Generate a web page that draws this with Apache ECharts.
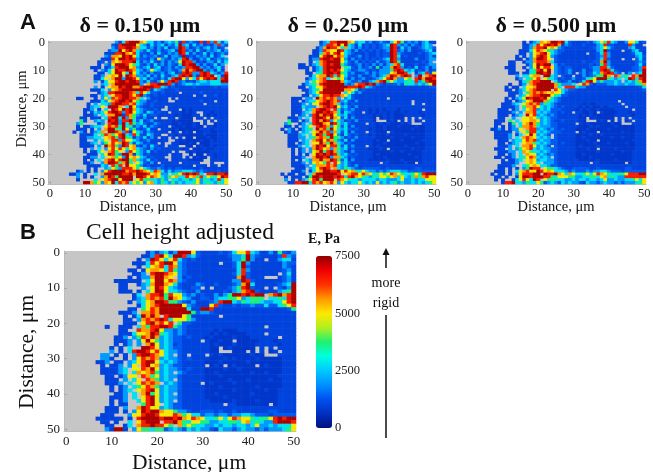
<!DOCTYPE html>
<html><head><meta charset="utf-8">
<style>html,body{margin:0;padding:0;background:#fff}#c{width:653px;height:472px}</style>
<script src="https://cdn.jsdelivr.net/npm/echarts@6/dist/echarts.min.js"></script>
</head><body><div id="c"></div>
<script>
// Distance ticks, um
const distance = Array.from({length:51},(_, i)=>String(i));
// One character per cell: '.' = no data, digits index levelValues (Pa)
const levelValues = [750,1000,1350,2000,2800,3700,4900,5600,6500,7300];
const colorbarTicks = [0,2500,5000,7500];
const panelTitles = ['δ = 0.150 μm','δ = 0.250 μm','δ = 0.500 μm','Cell height adjusted'];

const delta150 = [
".......... .........3 1489997644 2313435182 3218183842 4",
".......... ........21 8999964314 2341324934 1423121383 2",
".......... ........31 8899874423 1324123983 1231342312 .",
".......... .......233 9689743242 1312341982 3142132341 3",
".......... ......1118 8976842213 1421323984 1312413123 2",
".......... ......3277 6989641322 3124133291 2132314124 .",
".......... .....11186 9989832213 1632132489 3113241232 3",
".......... ....12.276 7888941324 2131323698 8312133142 4",
".......... ....1.3269 9986542131 4231321498 9931312413 .",
".......... ..111.1248 9996732341 3412313238 8993231342 .",
".......... ...1.32469 8898743136 4312321379 7899323141 .",
".......... ....11.469 9649642313 1231341289 8338984313 8",
".......... ...113.676 9.98733241 3142134898 9318989.41 9",
".......... ...1146.79 9399863413 2131489963 6486898948 9",
".......... ...3.14668 9989983242 1363898231 2134434449 9",
".......... .....34.79 9999993.78 8999831234 4343334443 3",
".......... ...3.1.677 9899778999 8843121111 1211111212 2",
".......... ..1114.367 8999999981 4321112111 1111111111 1",
".......... ....134889 9998748642 2121111.11 1112111111 1",
".......... ..11.34.68 8998689321 2111111111 1.11.11211 1",
"........11 ...1.36487 8998874.31 1111.1.111 1111111111 1",
".......... ..11143678 9989653311 2111..1111 1112111.11 1",
".......... .1.3.44389 9887843212 1111111111 1111.11111 1",
".......... .13446.999 7.49632112 111.111111 1111111111 1",
".......... 113.1.4.98 6989743211 21..111.01 0111111111 1",
".......... 1.14346899 8389643143 1211.11101 01..110111 1",
".......... 1113.4.779 9187532412 2111110100 011.101011 1",
".........1 1.111.4899 4937521311 .1..11.100 0.11.1.111 1",
".........5 1..343.989 3889424123 1111101000 0...1.1.11 1",
"........35 ....13.899 3948534211 3211100100 010.1..011 1",
"........1. 11344.6878 5945232413 2111.10010 0100.11011 1",
"........11 1.1.3.7995 4963521241 1.11101000 0001110111 1",
".......1.3 1.1347.998 7381643132 1111.01.01 0.00110011 1",
".........1 1114.58756 8943852143 11..110100 0000100011 1",
".........1 13344.6785 8954132413 1.11.1.1.0 0.00010011 1",
".........1 1..3.46.88 3866431231 1111..1010 0001001011 1",
".........1 1134.35686 7984243121 1.1..11000 10.0001111 1",
".........1 111.3.9785 3986721314 211.111..0 0.01001011 1",
".......... 1.3.4.3686 8646743213 1211111101 .000100111 1",
".......... 1.1146.785 6.38653241 21111.1..1 0100001111 1",
".......... .111.46985 3997143121 1111.111.. 0.00.11011 1",
".......... 1133.4.675 6396764312 111..111.1 .0100.1011 1",
".......... 1.1.4.7896 8995743241 2111.11111 0000..1111 1",
".......... 113..37998 5795.64213 1.11111.11 111...1... 1",
".......... .111143.85 8.96653121 1121111111 1.111.11.1 1",
".......... .1.1..3465 3888656432 2321212211 1112111111 1",
"........13 .1.1.36899 9978898764 8742423344 4323211121 1",
"......113. 1..4.79999 9889799986 7633.45689 8984.88988 9",
"........3. 1.1..37985 9999.99868 7643567448 6758465469 8",
"........1. ...4.67899 6999.68554 4353.44345 3463543484 6",
".......... 9975637694 8784656367 4354353434 4563454354 6"
];

const delta250 = [
".......... ........13 4889997634 4231232146 8523231341 1",
".......... ........23 8879694314 1212123498 3231321343 .",
".......... .......137 9886474313 1212123398 1423112343 2",
".......... ......1138 7669843131 2121212398 2313111234 1",
".......... ......1147 8689643211 1211212298 3211112123 4",
".......... .....11168 9968742123 1211212298 4121111123 1",
".......... .....13389 9899631312 1212123498 3111131123 3",
".......... .....1.478 9999642131 2121312398 5111111213 .",
".......... ..11.13478 9899532123 1213131347 8411121123 3",
".......... ..111.1348 9999.54213 1231513379 8312141231 3",
".......... ....1.1348 9898643123 3212133358 9843412131 2",
".......... ....11.458 9989542311 2313233367 9984.13482 6",
".......... .....14677 9848642213 1123134798 7898.39.78 9",
".......... ....134.78 4.65631312 3112346897 3365.89799 8",
".......... ....3.5678 9999743223 1134789564 3345483589 9",
".......... ...1345.89 9999932378 8989321222 3254434346 9",
".......... ..11.34668 9999998889 8432111111 1111111112 2",
".......... ...1134569 9999977641 2111111111 1111111111 1",
".......... ....134689 9999.46423 1111111111 1111111111 1",
".......... ...11.3468 8988764211 1111111111 1111111111 1",
".......... 111.33.978 7873.34211 1111111.11 1111111111 1",
".......... 11.1344678 9878342131 1111111111 1111.11111 1",
".......... 1113.36689 9874231211 1111111111 1111.11.11 1",
".......... 1114333.78 9896342131 1111111111 1111111111 1",
".......... 111.347899 8.84232311 1101010111 0111111.11 1",
".......... 11134.7998 9875143211 .101011010 0101110111 1",
".......... 1.13.38979 8964341211 1110101010 0011111011 1",
".........1 113.4.8998 6976241311 1110.01010 00.1.1.111 1",
".........5 11.13.8979 8364312131 1110...010 .0.1.01.11 1",
"........35 ..13.48997 6985342111 1.11010100 0101...111 1",
"........11 .1.346.898 7365241311 1111001000 1000010011 1",
".......1.3 1.1345.978 5964342121 1101001000 0000100011 1",
"........13 11.34.6797 8374241311 1.11000.10 0000000011 1",
".........1 1134.46985 8963142121 1101000100 0010000011 1",
".........1 1133.45787 5955312131 1111000010 0000100011 1",
".........1 11.34.7896 8753241311 1110100.00 0100000111 1",
".........1 1.134.6697 5974312111 1110001000 0000010011 1",
".........1 113.4.7989 6885241311 1.10100000 0010000011 1",
".......... 1.13.37986 7375341211 1100010.00 0000100011 1",
".......... 1.13.36795 8974321311 1110000010 0100000111 1",
".......... 1.1.1.6989 8985342121 1110100000 0001000111 1",
".......... 1113..7998 9377431211 1110001000 0000010111 1",
".......... 1.1.437797 7985241311 1100000100 0100000111 1",
".......... 1113.36765 8.86342111 11111.1100 00100.0111 1",
".......... 11113.4777 8784342131 1111111111 1111111111 1",
".......... .111.34689 8.74354321 2222211211 1111122111 1",
".......... 1113.14679 9889686754 6433232344 4332222222 2",
".......1.1 1.11.47999 9998.67886 8764565687 6544565899 9",
"........1. 111.159989 9989848976 5435466567 4643575786 6",
"........3. 1.13468959 99.8765443 4444344333 4633434466 6",
".........1 1889948786 7863643446 4343634345 3433434345 6"
];

const delta500 = [
".......... ......1.13 4767998942 1111213465 8431136641 2",
".......... ......1134 8689897132 1112111348 2211118311 .",
".......... ......1137 8896763211 1111112346 4211113411 1",
".......... .....11146 8765432211 1111111349 2111.11341 1",
".......... .....11.36 7896432111 1111.11248 3111111244 1",
".......... ....1.1.36 8986321111 1111111238 3111111134 2",
".......... ....11.137 9986.21111 1111111248 2111.11.24 1",
".......... ..11..1337 8887421111 1112112279 3111111123 2",
".......... ..11...136 9899.31211 1111121258 3111111124 1",
".......... .111..1.36 9688632122 1111123388 4211111223 8",
".......... ..11...145 8969.32123 1113113389 8421111223 9",
".......... ..111.1145 9989.32123 1.23124378 9832.13.34 9",
".......... ....3.4467 7.9943.211 .113123559 7.8745.879 9",
".......... ....13.456 8.65431211 3112456999 5434.49848 9",
".......... .....14578 8999.42123 1124896353 3343.34357 9",
".......... ..1..13.78 9999975333 4.68721222 3343343345 7",
".......... .1.11.4667 9999974.88 8433111111 1111111112 4",
".......... .11.134678 9999.86432 2111111111 1111111111 2",
".......... ..1113.578 7876766421 1111111111 1111111111 1",
".......... ..11.34678 8999654221 1111111111 1111111111 1",
".......... .1.1346989 9896432111 1111111111 1111111111 1",
".......... .11.134679 9975432111 1111111111 111.111111 1",
".......... 11134.6787 8354321111 1110100111 1111.11111 1",
".......... 11113.5778 6434321211 1101010010 11111.1111 1",
".........1 11.13.4678 3434222111 1010100100 0011111.11 1",
".........1 1113.3.778 4343221211 .110010.10 0001110111 1",
".........1 11.134.968 3432321111 1101010000 0011111011 1",
".........1 1..3..6676 4343221111 1100.01000 00.1.1.111 1",
"........11 1.5.4.6677 6343211211 1100...010 .0.1.01.11 1",
"........11 ..15.46797 5343221111 1.10100000 0100...111 1",
"........1. 1.13.47787 4333221111 1100010100 0010000011 1",
".......113 1.1336.788 3432321211 1000100000 1000000011 1",
"........11 111.3.6588 4343222111 1.01000.00 0000100011 1",
"........11 113.14.696 3432.21111 1000010010 0000000011 1",
"........11 113.4.7876 4343.21111 1001000000 0100100011 1",
".........1 11.3446878 3433221111 1000100.00 0000000111 1",
".........1 1.134.6775 4343221211 1000001000 1000010011 1",
".........1 113.4.7786 3432.21111 1010000100 0000000011 1",
"........11 1.3.356784 3433221111 1000100.00 0010000011 1",
".........1 1133.47654 4343221111 1000000100 0000100111 1",
".........1 1.13.4.766 3432321111 1001000000 0100000111 1",
"........11 .113.45687 4343.21111 1000010000 0000000111 1",
".......... 1.1134.676 3443321111 1100000100 0010000111 1",
".......... 11113..676 4.33321111 11111.1100 00000.0111 1",
".........1 1113..4567 6443221111 1111111111 1111111111 1",
".........1 1.1.1.3598 8.65543211 2222211211 1111122111 1",
"........11 1.1.467866 9867644432 3222323344 3222122222 2",
".......1.1 1.1.368889 9.98897647 6445646876 5445568889 9",
"........11 .1..169989 9988546665 5334455467 4543388888 8",
"........1. 1..1468649 8.65554433 4344344346 3343344564 6",
".......... 1889443544 6523432434 3321433234 3323233345 6"
];

const heightAdj = [
".......... ........13 1341399962 1111212466 8431131521 3",
".......... .......113 8964998342 1111112334 9321111283 2",
".......... ......1.39 8646842121 1111111335 9311.11344 1",
".......... .....11148 6899632111 1111.11249 3111111132 2",
".......... ......1.46 7848732111 1111111249 2111111132 1",
".......... ....11.167 7648532111 1111111148 3111111123 1",
".......... .....113.8 9987632111 1111111248 2111111.24 1",
".......... ....1.1337 9976.31211 1111111179 2111...123 1",
".......... .111111.46 9968732111 1111111339 8211111123 1",
".......... ..11..1347 9976421113 2112111237 9411111234 9",
".......... ..11...3.6 9864321122 .1.1112358 9211.1.213 9",
".......... ..111.1.46 9964432113 1111121347 8921111345 9",
".......... .....14.78 8958663231 2113135998 9899.78978 9",
".......... .....13478 7859764311 2213445563 4555.44548 9",
".......... ....1.3467 9985532131 1123899435 4554334468 9",
".......... ......1467 8999996321 1168211212 2322422456 8",
".......... ....11.568 7999999411 9981111111 1111111112 5",
".......... ..1113.778 7999999952 3321111111 1111111111 1",
".......... ...1.14979 7.89996511 1111.11111 1111111111 1",
".......... ...11.3787 8984666531 1111111111 1111111111 1",
".......... ...111.689 7868.52211 1111111111 1111111111 1",
".........1 ..111.4758 8998532111 1111111111 1111.11111 1",
".......... ..11..8778 9633232111 1110100011 1111111111 1",
".......... ..11146679 8543232111 1101010000 1111.11111 1",
".......... .113.35879 7343221211 1010000100 0111111.11 1",
".......... .1113.3696 5343221111 .100100.00 0001110111 1",
".......... .1.13.3.79 6343121111 1101000100 0011111011 1",
".......... 1.1.4..998 6343221111 1100.01000 00.1.1.111 1",
".......... 3.1.489986 8643321111 1100...000 .0.1.01.11 1",
"........33 .1.1.38998 7643.21.11 1.10100000 0100...111 1",
"........33 1..1.36878 7343321211 1100010100 0010000011 1",
".......113 .11.346899 6434321111 1000100000 1000000011 1",
"........1. 113.36.896 7343221111 1.010.0100 00.0100011 1",
"........11 1134.66879 6343321211 1000010010 0000000011 1",
"........11 1134.47678 5343.32111 1001000000 0100100011 1",
".........1 1.1366.875 6343321111 1000100000 0000000111 1",
".........1 11.3.46.87 5343.21111 1000001000 1000010011 1",
".........1 113.4.6878 7.34321111 .010000100 0000000011 1",
".......... 1.13.45687 5343321111 1000100000 0010000011 1",
".......... 1.134.6789 6343321111 1000000100 0000100111 1",
".......... .113.4.795 6343.21111 1001000000 0100000111 1",
".......... 1113.4.689 6343321111 1000010000 0000000111 1",
".......... 1.13..4689 6343.21111 1100000100 0010000111 1",
".......... 1.11...589 6.43221111 11111.1100 00000.0111 1",
".........1 11.3..7986 6343221111 1111111111 1111111111 1",
".........1 11.1.36989 9766533211 2221211211 1111122111 1",
"........11 1...366899 8666875644 2332332334 4322212222 2",
".......111 111.1.8999 9899897687 6445646876 6545568989 9",
"........11 .1..4.6899 9.88975466 5533445546 7454338999 8",
".........1 1..14.7889 8865.75654 4334344344 3463343444 6",
".........3 1991.36554 5523432434 3321433234 3323233345 6"
];

const panels = [delta150, delta250, delta500, heightAdj];
const serif = '"Liberation Serif", serif';

// rows -> [col,row,value]
function cells(rows){
  const out=[];
  rows.forEach((r,y)=>{
    const s=r.replace(/\s+/g,'');
    for(let x=0;x<51&&x<s.length;x++){
      const c=s[x];
      if(c!=='.') out.push([x,y,levelValues[+c]]);
    }
  });
  return out;
}

const grids=[
 {left:48,top:41,width:180,height:143},
 {left:256,top:41,width:180,height:143},
 {left:466,top:41,width:180,height:143},
 {left:64,top:251,width:232,height:180}
];
const bg='#c6c6c6';
const xAxes=[],yAxes=[],series=[];
grids.forEach((g,i)=>{
  g.show=true;g.backgroundColor=bg;g.borderWidth=0;g.outerBoundsMode='none';g.containLabel=false;
  const axisCommon=()=>({
    axisLine:{show:true,lineStyle:{color:'#bbb'}},
    axisTick:{show:true,inside:true,length:3,alignWithLabel:true,interval:9,lineStyle:{color:'#aaa'}},
    axisLabel:{interval:9,fontFamily:serif,fontSize:i===3?13:12.5,color:'#222',margin:i===3?4:3,showMinLabel:true,showMaxLabel:true},
    splitLine:{show:false},splitArea:{show:false}});
  xAxes.push(Object.assign({type:'category',gridIndex:i,data:distance,position:'bottom'},axisCommon()));
  yAxes.push(Object.assign({type:'category',gridIndex:i,data:distance,inverse:true},axisCommon()));
  series.push({type:'heatmap',xAxisIndex:i,yAxisIndex:i,data:cells(panels[i]),
    progressive:0,animation:false,silent:true,itemStyle:{borderWidth:0},emphasis:{disabled:true}});
});
// colour bar axis
grids.push({left:316,top:256,width:16,height:172,show:false,outerBoundsMode:'none'});
xAxes.push({type:'value',gridIndex:4,show:false,min:0,max:1});
yAxes.push({type:'value',gridIndex:4,position:'right',min:colorbarTicks[0],max:colorbarTicks[3],interval:2500,
  axisLine:{show:false},axisTick:{show:false},splitLine:{show:false},
  axisLabel:{fontFamily:serif,fontSize:12.5,color:'#222',margin:3,formatter:v=>String(v)}});

const pos=(x,y,t,font,rot)=>({type:'text',x:x,y:y,rotation:rot||0,silent:true,style:{text:t,font:font,fill:'#111',align:'center',verticalAlign:'middle'}});
const axisName='Distance, μm';

const chart=echarts.init(document.getElementById('c'),null,{renderer:'canvas'});
chart.setOption({
  animation:false,
  backgroundColor:'#fff',
  grid:grids,xAxis:xAxes,yAxis:yAxes,series:series,
  visualMap:{type:'continuous',min:0,max:7500,seriesIndex:[0,1,2,3],left:316,top:256,itemWidth:16,itemHeight:172,
    padding:0,calculable:false,hoverLink:false,showLabel:false,text:null,
    inRange:{color:['#00107f','#0030c0','#0050f0','#0090ff','#00c8ff','#00ffe0','#20f070','#b0f020','#ffe800','#ff9800','#ff3000','#f00000','#900000']}},
  graphic:{elements:[
    pos(140,26,panelTitles[0],'bold 22px '+serif),
    pos(348,26,panelTitles[1],'bold 22px '+serif),
    pos(556,26,panelTitles[2],'bold 22px '+serif),
    pos(180,233,panelTitles[3],'23.5px '+serif),
    pos(28,23,'A','bold 22px "Liberation Sans", sans-serif'),
    pos(28,233,'B','bold 22px "Liberation Sans", sans-serif'),
    pos(138,207,axisName,'14.5px '+serif),
    pos(348,207,axisName,'14.5px '+serif),
    pos(556,207,axisName,'14.5px '+serif),
    pos(22,109,axisName,'14.5px '+serif,Math.PI/2),
    pos(189,463,axisName,'21.5px '+serif),
    pos(27,352,axisName,'21.5px '+serif,Math.PI/2),
    pos(324,239,'E, Pa','bold 14px '+serif),
    pos(386,283,'more','14px '+serif),
    pos(386,303,'rigid','14px '+serif),
    {type:'line',silent:true,shape:{x1:386,y1:315,x2:386,y2:438},style:{stroke:'#111',lineWidth:1.5}},
    {type:'line',silent:true,shape:{x1:386,y1:252,x2:386,y2:268},style:{stroke:'#111',lineWidth:1.5}},
    {type:'polygon',silent:true,shape:{points:[[386,248],[382.5,255],[389.5,255]]},style:{fill:'#111'}}
  ]}
});
</script></body></html>
